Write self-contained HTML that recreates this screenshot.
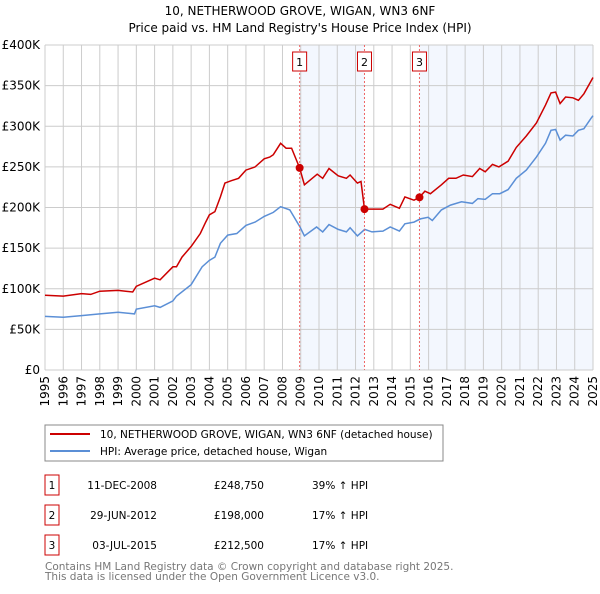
<!DOCTYPE html>
<html><head><meta charset="utf-8">
<style>
body{margin:0;background:#fff;font-family:"DejaVu Sans","Liberation Sans",sans-serif;}
svg text{font-family:"DejaVu Sans","Liberation Sans",sans-serif;}
</style></head>
<body>
<svg id="c" width="600" height="590" xmlns="http://www.w3.org/2000/svg">
<text x="300" y="15" text-anchor="middle" font-size="12" fill="#000">10, NETHERWOOD GROVE, WIGAN, WN3 6NF</text>
<text x="300" y="32" text-anchor="middle" font-size="12" fill="#000">Price paid vs. HM Land Registry's House Price Index (HPI)</text>
<g id="shade"></g><g id="grid"></g><g id="axes"></g><g id="series"></g><g id="marks"></g>
<rect x="45" y="425" width="398" height="36" fill="none" stroke="#888"/>
<line x1="50" y1="434" x2="90" y2="434" stroke="#cc0000" stroke-width="2"/>
<text x="100" y="438" font-size="10.5">10, NETHERWOOD GROVE, WIGAN, WN3 6NF (detached house)</text>
<line x1="50" y1="451" x2="90" y2="451" stroke="#5b8fd6" stroke-width="2"/>
<text x="100" y="455" font-size="10.5">HPI: Average price, detached house, Wigan</text>
<g id="table" font-size="10.5"></g>
<text x="45" y="570" font-size="10.5" fill="#777">Contains HM Land Registry data © Crown copyright and database right 2025.</text>
<text x="45" y="580" font-size="10.5" fill="#777">This data is licensed under the Open Government Licence v3.0.</text>
</svg>
<script>
const hpiYears=[1995,1996,1997,1998,1999,1999.9,2000,2001,2001.3,2002,2002.2,2003,2003.6,2004,2004.3,2004.6,2005,2005.5,2006,2006.5,2007,2007.5,2007.9,2008.4,2008.96,2009.2,2009.87,2010.2,2010.55,2011.05,2011.5,2011.7,2012.1,2012.5,2012.9,2013.5,2013.9,2014.4,2014.7,2015.2,2015.55,2015.97,2016.2,2016.7,2017.2,2017.8,2018.4,2018.7,2019.1,2019.5,2019.9,2020.35,2020.8,2021.35,2021.9,2022.4,2022.7,2022.95,2023.2,2023.5,2023.9,2024.2,2024.5,2024.9,2025];
const hpiValues=[66,65,67,69,71,69,75,79,77,85,91,105,127,135,139,156,166,168,178,182,189,194,201,197,176,165,176,170,179,173,170,175,165,173,170,171,176,171,180,182,186,188,184,197,203,207,205,211,210,217,217,222,236,246,262,279,295,296,283,289,288,295,297,310,313];
const redYears=[1995,1996,1997,1997.5,1998,1999,1999.8,2000,2001,2001.3,2002,2002.2,2002.5,2003,2003.5,2003.8,2004,2004.3,2004.6,2004.85,2005.2,2005.6,2006,2006.5,2007,2007.3,2007.5,2007.9,2008.2,2008.5,2008.94,2009.2,2009.9,2010.2,2010.55,2011.05,2011.5,2011.7,2012.1,2012.3,2012.49,2013.1,2013.5,2013.9,2014.4,2014.7,2015.2,2015.5,2015.8,2016.1,2016.7,2017.1,2017.5,2017.9,2018.4,2018.8,2019.1,2019.5,2019.85,2020.35,2020.8,2021.35,2021.9,2022.4,2022.7,2022.95,2023.2,2023.5,2023.9,2024.2,2024.5,2024.9,2025];
const redValues=[92,91,94,93,97,98,96,103,113,111,127,127,139,152,168,182,191,195,213,230,233,236,246,250,260,262,265,279,273,273,248.75,228,241,236,248,239,236,240,230,232,198,198,198,204,199,213,209,212.5,220,217,228,236,236,240,238,248,244,253,250,257,274,288,304,326,341,342,328,336,335,332,340,356,360];
const saleYears=[2008.94,2012.49,2015.5];
const saleValues=[248.75,198,212.5];
const saleLabels=["1","2","3"];
const saleDates=["11-DEC-2008","29-JUN-2012","03-JUL-2015"];
const salePrices=["£248,750","£198,000","£212,500"];
const saleDiffs=["39% ↑ HPI","17% ↑ HPI","17% ↑ HPI"];
const yTicks=[0,50,100,150,200,250,300,350,400];
const yTickLabels=["£0","£50K","£100K","£150K","£200K","£250K","£300K","£350K","£400K"];
const xTicks=[1995,1996,1997,1998,1999,2000,2001,2002,2003,2004,2005,2006,2007,2008,2009,2010,2011,2012,2013,2014,2015,2016,2017,2018,2019,2020,2021,2022,2023,2024,2025];

const X0=45,X1=593,Y0=370,Y1=45;
const xs=y=>X0+(y-1995)/30*(X1-X0);
const ys=v=>Y0-v/400*(Y0-Y1);
const NS="http://www.w3.org/2000/svg";
function mk(tag,attrs,parent,txt){const e=document.createElementNS(NS,tag);for(const k in attrs)e.setAttribute(k,attrs[k]);if(txt!==undefined)e.textContent=txt;document.getElementById(parent).appendChild(e);return e;}

let e;
e=mk('rect',{x:xs(saleYears[0]),y:Y1,width:xs(saleYears[1])-xs(saleYears[0]),height:Y0-Y1,fill:'#eef3fd',opacity:0.7},'shade');


e=mk('rect',{x:xs(saleYears[2]),y:Y1,width:X1-xs(saleYears[2]),height:Y0-Y1,fill:'#eef3fd',opacity:0.7},'shade');



yTicks.forEach((t,i)=>{
  e=mk('line',{x1:X0,x2:X1,y1:ys(t),y2:ys(t),stroke:'#ccc','stroke-width':1},'grid');
  
  
  e=mk('text',{x:40,y:ys(t)+4,'text-anchor':'end','font-size':12},'axes',yTickLabels[i]);
  
  
});
xTicks.forEach(t=>{
  e=mk('line',{x1:xs(t),x2:xs(t),y1:Y1,y2:Y0,stroke:'#ccc','stroke-width':1},'grid');
  
  
  e=mk('text',{x:0,y:0,'font-size':12,'text-anchor':'end',transform:`translate(${xs(t)+4},${Y0+6}) rotate(-90)`},'axes',String(t));
  
  
});

function path(xa,va){return xa.map((y,i)=>(i?'L':'M')+xs(y).toFixed(1)+','+ys(va[i]).toFixed(1)).join('');}
e=mk('path',{d:path(hpiYears,hpiValues),fill:'none',stroke:'#5b8fd6','stroke-width':1.5},'series');


e=mk('path',{d:path(redYears,redValues),fill:'none',stroke:'#cc0000','stroke-width':1.5},'series');



saleYears.forEach((y,i)=>{
  e=mk('line',{x1:xs(y),x2:xs(y),y1:Y1,y2:Y0,stroke:'#e66','stroke-width':1,'stroke-dasharray':'2,2'},'marks');
  
  
  e=mk('rect',{x:xs(y)-7,y:52,width:14,height:19,fill:'#fff',stroke:'#cc0000'},'marks');
  
  
  e=mk('text',{x:xs(y),y:66,'text-anchor':'middle','font-size':11},'marks',saleLabels[i]);
  
  
  e=mk('circle',{cx:xs(y),cy:ys(saleValues[i]),r:4,fill:'#cc0000'},'marks');
  
  
  const ty=487+i*30;
  e=mk('rect',{x:45,y:ty-12,width:14,height:20,fill:'none',stroke:'#cc0000'},'table');
  
  
  e=mk('text',{x:52,y:ty+2,'text-anchor':'middle'},'table',saleLabels[i]);
  
  
  e=mk('text',{x:157,y:ty+2,'text-anchor':'end'},'table',saleDates[i]);
  
  
  e=mk('text',{x:264,y:ty+2,'text-anchor':'end'},'table',salePrices[i]);
  
  
  e=mk('text',{x:312,y:ty+2},'table',saleDiffs[i]);
  
  
});
</script>
</body></html>
